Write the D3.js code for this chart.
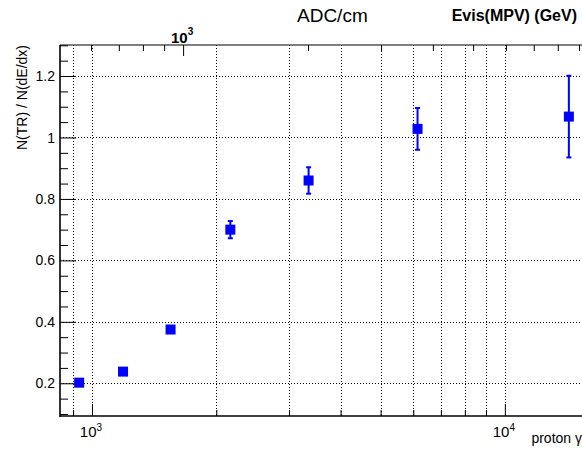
<html>
<body style="margin:0">
<svg class="chart"></svg>
</body>
<style>
  .chart text { font-family: "Liberation Sans", Arial, sans-serif; fill: #000; }
  .grid line { stroke: #000; stroke-width: 1; stroke-dasharray: 1,2; }
  .axis .domain { display: none; }
  .axis .tick line { stroke: #000; stroke-width: 1; }
</style>

<script src="https://d3js.org/d3.v7.min.js"></script>
<script>
  // proton gamma vs N(TR)/N(dE/dx)
  var gammaValues = [931, 1189, 1550, 2163, 3347, 6145, 14290];
  var ratioValues = [0.202, 0.238, 0.375, 0.700, 0.860, 1.028, 1.068];
  var ratioErrors = [0.004, 0.005, 0.007, 0.028, 0.043, 0.068, 0.133];

  var yTickLabels = [0.2, 0.4, 0.6, 0.8, 1, 1.2];
  var xMajorTicks = [1000, 10000];
  var xMinorTicks = [900, 2000, 3000, 4000, 5000, 6000, 7000, 8000, 9000];
  var topMajorTicks = [1000];
  var topMinorTicks = [600, 700, 800, 900, 2000, 3000, 4000, 5000, 6000, 7000, 8000, 9000];

  var width = 582;
  var height = 450;
  var padLeft = 60, padTop = 45, padBottom = 416, padRight = 600;

  var chart = d3.select(".chart")
    .attr("width", width)
    .attr("height", height)
    .style("background", "white");

  var x = d3.scaleLog().domain([836.6, 17000]).range([padLeft, padRight]);
  var xTop = d3.scaleLog().domain([505, 10111]).range([padLeft, padRight]);
  var y = d3.scaleLinear().domain([0.0935, 1.301]).range([padBottom, padTop]);

  // grid
  var grid = chart.append("g").attr("class", "grid");
  grid.selectAll(".vg")
      .data(xMinorTicks.concat(xMajorTicks))
    .enter().append("line")
      .attr("x1", function(d) { return Math.round(x(d)) + 0.5; })
      .attr("x2", function(d) { return Math.round(x(d)) + 0.5; })
      .attr("y1", padTop)
      .attr("y2", padBottom);
  grid.selectAll(".hg")
      .data(yTickLabels)
    .enter().append("line")
      .attr("x1", padLeft)
      .attr("x2", padRight)
      .attr("y1", function(d) { return Math.round(y(d)) + 0.5; })
      .attr("y2", function(d) { return Math.round(y(d)) + 0.5; });

  // left axis
  var yMinor = d3.range(0.1, 1.31, 0.05).filter(function(v) {
    return yTickLabels.every(function(t) { return Math.abs(t - v) > 0.01; });
  });
  chart.append("g")
    .attr("class", "axis")
    .attr("transform", "translate(" + padLeft + ",0)")
    .call(d3.axisRight(y).tickValues(yMinor).tickSize(8).tickFormat(""));
  chart.append("g")
    .attr("class", "axis")
    .attr("transform", "translate(" + padLeft + ",0)")
    .call(d3.axisRight(y).tickValues(yTickLabels).tickSize(16).tickFormat(""));

  chart.selectAll(".ylab")
      .data(yTickLabels)
    .enter().append("text")
      .attr("x", 55)
      .attr("y", function(d) { return y(d); })
      .attr("dy", "0.36em")
      .attr("text-anchor", "end")
      .style("font-size", "14px")
      .text(function(d) { return d3.format("~g")(d); });

  // bottom axis
  chart.append("g")
    .attr("class", "axis")
    .attr("transform", "translate(0," + padBottom + ")")
    .call(d3.axisTop(x).tickValues(xMinorTicks).tickSize(6).tickFormat(""));
  chart.append("g")
    .attr("class", "axis")
    .attr("transform", "translate(0," + padBottom + ")")
    .call(d3.axisTop(x).tickValues(xMajorTicks).tickSize(12).tickFormat(""));

  var xl = chart.selectAll(".xlab")
      .data(xMajorTicks)
    .enter().append("text")
      .attr("x", function(d) { return x(d) - 1; })
      .attr("y", 437)
      .attr("text-anchor", "middle")
      .style("font-size", "15px");
  xl.append("tspan").text("10");
  xl.append("tspan")
    .attr("dy", "-6")
    .style("font-size", "10px")
    .text(function(d) { return Math.round(Math.log10(d)); });

  // top axis
  chart.append("g")
    .attr("class", "axis")
    .attr("transform", "translate(0," + padTop + ")")
    .call(d3.axisBottom(xTop).tickValues(topMinorTicks).tickSize(6).tickFormat(""));
  chart.append("g")
    .attr("class", "axis")
    .attr("transform", "translate(0," + padTop + ")")
    .call(d3.axisBottom(xTop).tickValues(topMajorTicks).tickSize(11).tickFormat(""));

  var tl = chart.selectAll(".toplab")
      .data(topMajorTicks)
    .enter().append("text")
      .attr("x", function(d) { return xTop(d) - 1; })
      .attr("y", 43)
      .attr("text-anchor", "middle")
      .style("font-size", "15px")
      .style("font-weight", "bold");
  tl.append("tspan").text("10");
  tl.append("tspan")
    .attr("dy", "-8")
    .style("font-size", "10px")
    .text(function(d) { return Math.round(Math.log10(d)); });

  // frame lines
  chart.append("line")
    .attr("x1", padLeft).attr("x2", padLeft).attr("y1", padTop).attr("y2", padBottom + 1)
    .attr("stroke", "#000").attr("stroke-width", 1.6);
  chart.append("line")
    .attr("x1", padLeft).attr("x2", padRight).attr("y1", padBottom).attr("y2", padBottom)
    .attr("stroke", "#000").attr("stroke-width", 1.6);
  chart.append("line")
    .attr("x1", padLeft).attr("x2", padRight).attr("y1", padTop).attr("y2", padTop)
    .attr("stroke", "#000").attr("stroke-width", 1.2);

  // titles
  chart.append("text")
    .attr("transform", "translate(27," + padTop + ") rotate(-90)")
    .attr("text-anchor", "end")
    .style("font-size", "14px")
    .text("N(TR) / N(dE/dx)");
  chart.append("text")
    .attr("x", 582)
    .attr("y", 443)
    .attr("text-anchor", "end")
    .style("font-size", "14px")
    .text("proton \u03b3");
  chart.append("text")
    .attr("x", 297)
    .attr("y", 22)
    .style("font-size", "19px")
    .text("ADC/cm");
  chart.append("text")
    .attr("x", 577)
    .attr("y", 21)
    .attr("text-anchor", "end")
    .style("font-size", "16px")
    .style("font-weight", "bold")
    .text("Evis(MPV) (GeV)");

  // points with error bars
  var points = gammaValues.map(function(g, i) {
    return {g: g, r: ratioValues[i], e: ratioErrors[i]};
  });
  var pts = chart.append("g").selectAll("g")
      .data(points)
    .enter().append("g")
      .attr("transform", function(d) { return "translate(" + x(d.g) + ",0)"; });
  pts.append("line")
    .attr("y1", function(d) { return y(d.r + d.e); })
    .attr("y2", function(d) { return y(d.r - d.e); })
    .attr("stroke", "#0000ff")
    .attr("stroke-width", 2);
  pts.append("rect")
    .attr("x", -2.5).attr("width", 5)
    .attr("y", function(d) { return y(d.r + d.e) - 1; })
    .attr("height", 2)
    .attr("fill", "#0000ff");
  pts.append("rect")
    .attr("x", -2.5).attr("width", 5)
    .attr("y", function(d) { return y(d.r - d.e) - 1; })
    .attr("height", 2)
    .attr("fill", "#0000ff");
  pts.append("rect")
    .attr("x", -5).attr("width", 10)
    .attr("y", function(d) { return y(d.r) - 5; })
    .attr("height", 10)
    .attr("fill", "#0000ff");
</script>
</html>
